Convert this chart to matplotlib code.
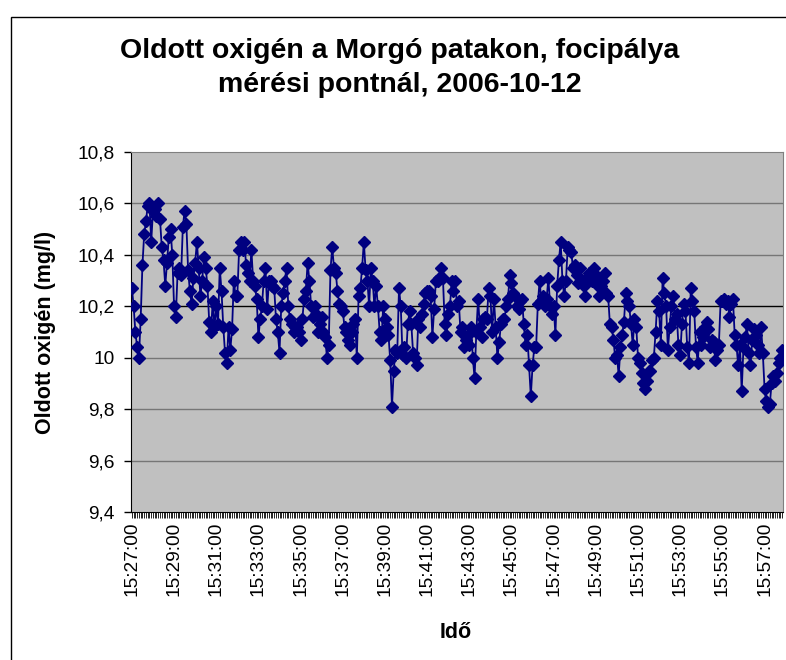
import matplotlib
matplotlib.use('Agg')
import matplotlib.pyplot as plt
import numpy as np
import pandas as pd
from matplotlib.patches import Rectangle

plt.rcParams['font.family'] = ['Liberation Sans', 'DejaVu Sans']

# Dissolved oxygen (mg/l), one reading every 5 seconds from 15:27:00
oxygen = [
    # 15:27 - 15:29
    10.27, 10.20, 10.10, 10.04, 10.00, 10.15, 10.36, 10.48, 10.53, 10.59, 10.60, 10.45,
    10.57, 10.58, 10.55, 10.60, 10.54, 10.43, 10.38, 10.28, 10.37, 10.47, 10.50, 10.40,
    # 15:29 - 15:31
    10.20, 10.16, 10.33, 10.35, 10.32, 10.51, 10.57, 10.52, 10.34, 10.26, 10.21, 10.31,
    10.37, 10.45, 10.35, 10.24, 10.30, 10.39, 10.35, 10.28, 10.14, 10.10, 10.22, 10.12,
    # 15:31 - 15:33
    10.20, 10.13, 10.35, 10.26, 10.12, 10.02, 9.98, 10.12, 10.03, 10.11, 10.30, 10.24,
    10.24, 10.42, 10.45, 10.42, 10.45, 10.36, 10.33, 10.30, 10.42, 10.30, 10.28, 10.23,
    # 15:33 - 15:35
    10.08, 10.15, 10.20, 10.30, 10.35, 10.19, 10.30, 10.30, 10.28, 10.27, 10.15, 10.10,
    10.02, 10.20, 10.25, 10.30, 10.35, 10.20, 10.15, 10.13, 10.10, 10.12, 10.12, 10.10,
    # 15:35 - 15:37
    10.07, 10.15, 10.23, 10.26, 10.37, 10.30, 10.20, 10.16, 10.20, 10.17, 10.10, 10.13,
    10.16, 10.10, 10.08, 10.00, 10.05, 10.34, 10.43, 10.35, 10.33, 10.26, 10.21, 10.20,
    # 15:37 - 15:39
    10.18, 10.12, 10.10, 10.07, 10.05, 10.10, 10.13, 10.15, 10.00, 10.24, 10.27, 10.35,
    10.45, 10.34, 10.30, 10.20, 10.35, 10.30, 10.20, 10.28, 10.20, 10.10, 10.07, 10.20,
    # 15:39 - 15:41
    10.15, 10.12, 10.09, 9.99, 9.81, 9.95, 10.03, 10.02, 10.27, 10.20, 10.01, 10.04,
    10.00, 10.13, 10.18, 10.13, 10.02, 10.00, 9.97, 10.15, 10.12, 10.17, 10.21, 10.25,
    # 15:41 - 15:43
    10.26, 10.26, 10.24, 10.08, 10.19, 10.30, 10.30, 10.31, 10.35, 10.31, 10.13, 10.09,
    10.17, 10.20, 10.30, 10.26, 10.30, 10.20, 10.22, 10.10, 10.12, 10.04, 10.07, 10.09,
    # 15:43 - 15:45
    10.05, 10.12, 10.00, 9.92, 10.10, 10.23, 10.12, 10.08, 10.15, 10.16, 10.15, 10.27,
    10.24, 10.10, 10.23, 10.12, 10.00, 10.06, 10.13, 10.15, 10.15, 10.20, 10.23, 10.32,
    # 15:45 - 15:47
    10.29, 10.25, 10.24, 10.20, 10.19, 10.22, 10.23, 10.13, 10.05, 10.09, 9.97, 9.85,
    9.97, 10.04, 10.04, 10.21, 10.30, 10.22, 10.24, 10.20, 10.23, 10.31, 10.20, 10.17,
    # 15:47 - 15:49
    10.20, 10.09, 10.28, 10.38, 10.45, 10.30, 10.24, 10.30, 10.43, 10.42, 10.41, 10.35,
    10.36, 10.32, 10.29, 10.35, 10.30, 10.28, 10.24, 10.31, 10.33, 10.32, 10.30, 10.35,
    # 15:49 - 15:51
    10.32, 10.28, 10.24, 10.28, 10.30, 10.33, 10.25, 10.24, 10.13, 10.12, 10.07, 10.00,
    10.01, 9.93, 10.04, 10.09, 10.14, 10.25, 10.22, 10.20, 10.13, 10.05, 10.15, 10.12,
    # 15:51 - 15:53
    10.00, 9.98, 9.94, 9.90, 9.88, 9.91, 9.95, 9.95, 9.99, 10.00, 10.10, 10.22,
    10.18, 10.05, 10.31, 10.25, 10.20, 10.03, 10.12, 10.20, 10.24, 10.15, 10.17, 10.05,
    # 15:53 - 15:55
    10.01, 10.13, 10.21, 10.18, 10.04, 9.98, 10.27, 10.22, 10.18, 10.04, 9.98, 10.10,
    10.05, 10.08, 10.12, 10.14, 10.11, 10.04, 10.07, 10.06, 9.99, 10.03, 10.05, 10.22,
    # 15:55 - 15:57
    10.22, 10.23, 10.21, 10.22, 10.16, 10.21, 10.23, 10.09, 10.05, 9.97, 10.05, 9.87,
    10.04, 10.08, 10.13, 10.02, 9.97, 10.07, 10.11, 10.09, 10.05, 10.02, 10.12, 10.02,
    # 15:57 - 15:57:50
    9.88, 9.83, 9.81, 9.82, 9.90, 9.93, 9.91, 9.94, 9.98, 10.00, 10.03,
]

times = pd.date_range('2006-10-12 15:27:00', periods=len(oxygen), freq='5s')

xtick_labels = ['15:27:00', '15:29:00', '15:31:00', '15:33:00', '15:35:00', '15:37:00',
                '15:39:00', '15:41:00', '15:43:00', '15:45:00', '15:47:00', '15:49:00',
                '15:51:00', '15:53:00', '15:55:00', '15:57:00']
ytick_values = [9.4, 9.6, 9.8, 10.0, 10.2, 10.4, 10.6, 10.8]
ytick_labels = ['9,4', '9,6', '9,8', '10', '10,2', '10,4', '10,6', '10,8']

W, H = 786, 660
fig = plt.figure(figsize=(W / 100, H / 100), dpi=100)
fig.patch.set_facecolor('white')

# plot area in pixels: left 131, right 783, top 152, bottom 512
ax = fig.add_axes([131 / W, 1 - 512 / H, (783 - 131) / W, (512 - 152) / H])
ax.set_facecolor('#c0c0c0')

x = np.arange(len(times))
ax.plot(x, oxygen, color='#000080', linewidth=1.3, marker='D', markersize=6.2,
        markerfacecolor='#000080', markeredgecolor='#000080', zorder=3)

ax.set_xlim(-0.5, len(times) - 0.5)
ax.set_ylim(9.4, 10.8)

# horizontal gridlines
for v in ytick_values[1:-1]:
    ax.axhline(v, color='black' if v == 10.2 else '#767676', linewidth=1.0, zorder=1)

ax.set_yticks(ytick_values)
ax.set_yticklabels(ytick_labels, fontsize=13.8)
label_pos = [i for i in x if times[i].second == 0 and times[i].minute % 2 == 1]
ax.set_xticks(label_pos)
ax.set_xticklabels(xtick_labels, rotation=90, fontsize=13.8)
ax.set_xticks(x, minor=True)

ax.tick_params(axis='y', direction='out', length=5, width=1, pad=7, color='black')
ax.tick_params(axis='x', which='both', direction='out', length=4, width=0.6, pad=3, color='black')

for side in ['top', 'right']:
    ax.spines[side].set_color('#808080')
for side in ['left', 'bottom']:
    ax.spines[side].set_color('black')

ax.set_ylabel('Oldott oxigén (mg/l)', fontsize=15.5, fontweight='bold', va='center')
ax.yaxis.set_label_coords((45 - 131) / 652, 0.5)
ax.set_xlabel('Idő', fontsize=15.5, fontweight='bold', va='center')
ax.xaxis.set_label_coords((456 - 131) / 652, (512 - 632) / 360)

fig.text(400 / W, 1 - 68 / H, 'Oldott oxigén a Morgó patakon, focipálya\nmérési pontnál, 2006-10-12',
         ha='center', va='center', fontsize=20.5, fontweight='bold', linespacing=1.4)

# outer chart border (cut off on the right and bottom)
fig.add_artist(Rectangle((11 / W, -0.1), 1.2, 1 - 17 / H + 0.1, transform=fig.transFigure,
                         fill=False, edgecolor='black', linewidth=1))

fig.savefig('out.png', dpi=100)
